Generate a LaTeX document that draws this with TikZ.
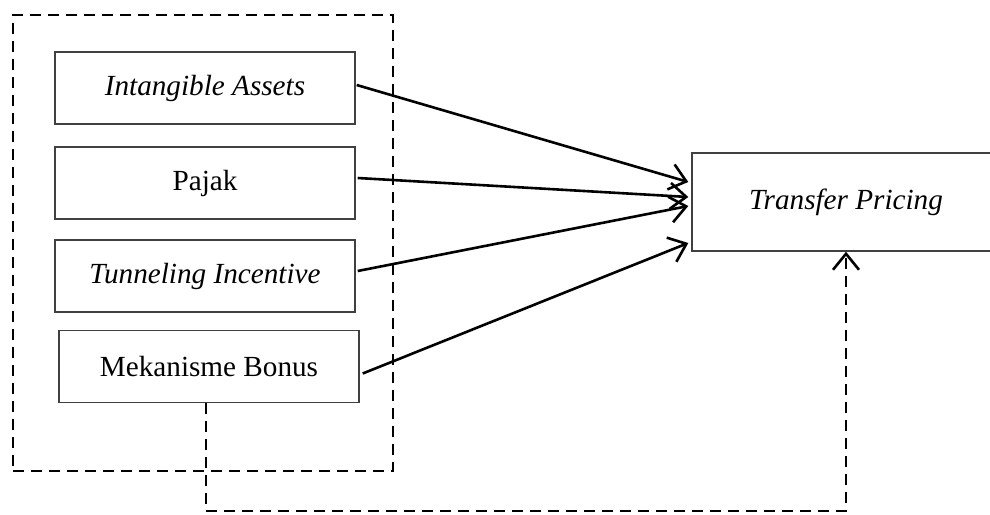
\documentclass[tikz,border=0pt]{standalone}
\usepackage{fontspec}
\setmainfont{Liberation Serif}
\usetikzlibrary{arrows.meta,calc}
\begin{document}
\begin{tikzpicture}[x=0.5pt,y=-0.5pt,
  var/.style={draw=black!75,line width=0.7pt,minimum width=150pt,minimum height=36pt,inner sep=0pt,font=\fontsize{14.6}{17}\selectfont},
  grpbox/.style={draw,line width=1.3pt,dash pattern=on 5.5pt off 3.5pt,minimum width=190pt,minimum height=228pt,inner sep=0pt},
  barb/.style={-{Straight Barb[length=8pt,width=13pt,line width=1.3pt]}},
  link/.style={line width=1.3pt,barb},
  dlink/.style={line width=1.3pt,dash pattern=on 5.5pt off 3.5pt,barb}]
\useasboundingbox (0,0) rectangle (990,514);
\clip (0,0) rectangle (990,514);
\node[grpbox] (grp) at (203,243) {};
\node[var] (ia) at (205,88) {\itshape Intangible Assets};
\node[var] (pj) at (205,183) {Pajak};
\node[var] (ti) at (205,276) {\itshape Tunneling Incentive};
\node[var] (mb) at (209,366.5) {Mekanisme Bonus};
\node[var,minimum width=154pt,minimum height=49pt] (tp) at (846,202) {\itshape Transfer Pricing};
\draw[link] ($(ia.east)+(1,-3)$) -- ($(tp.west)+(-3,-20)$);
\draw[link] ($(pj.east)+(2,-5)$) -- ($(tp.west)+(-3,-5)$);
\draw[link] ($(ti.east)+(2,-5)$) -- ($(tp.west)+(-3,4)$);
\draw[link] ($(mb.east)+(3,7)$) -- ($(tp.west)+(-3,41)$);
\coordinate (c1) at ($(mb.south)+(-3,0)$);
\coordinate (c2) at (c1 |- 0,511);
\coordinate (c3) at (tp.south |- 0,511);
\draw[dlink] (c1) -- (c2) -- (c3) -- (tp.south);
\end{tikzpicture}
\end{document}
